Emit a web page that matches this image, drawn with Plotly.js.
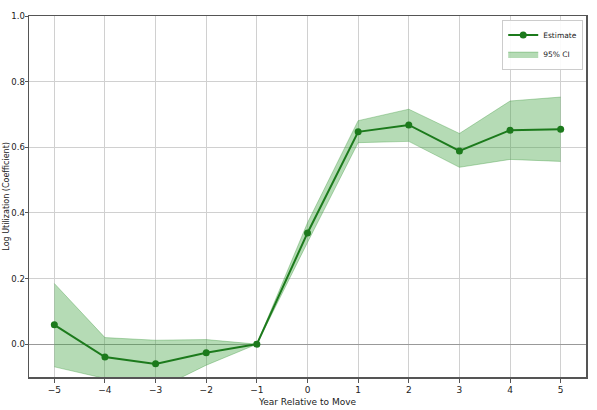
<!DOCTYPE html>
<html>
<head>
<meta charset="utf-8">
<script src="https://cdn.plot.ly/plotly-3.0.1.min.js"></script>
<style>html,body{margin:0;padding:0;background:#fff;}#chart{width:597px;height:410px;}</style>
</head>
<body>
<div id="chart"></div>
<script>
const years = [-5, -4, -3, -2, -1, 0, 1, 2, 3, 4, 5];
const estimate = [0.059, -0.039, -0.060, -0.026, 0.0, 0.339, 0.647, 0.668, 0.589, 0.652, 0.655];
const ciUpper = [0.185, 0.020, 0.012, 0.014, 0.0, 0.370, 0.681, 0.716, 0.642, 0.741, 0.753];
const ciLower = [-0.069, -0.105, -0.140, -0.064, 0.0, 0.310, 0.614, 0.618, 0.539, 0.563, 0.557];
const xTicks = [-5, -4, -3, -2, -1, 0, 1, 2, 3, 4, 5];
const yTicks = [0.0, 0.2, 0.4, 0.6, 0.8, 1.0];

const green = '#1c7a1c';
const traces = [
  {x: years, y: ciLower, type: 'scatter', mode: 'lines', line: {color: 'rgba(60,150,60,0.45)', width: 0.8}, showlegend: false, hoverinfo: 'skip'},
  {x: years, y: ciUpper, type: 'scatter', mode: 'lines', fill: 'tonexty', fillcolor: 'rgba(60,160,60,0.38)', line: {color: 'rgba(60,150,60,0.45)', width: 0.8}, name: '95% CI', legendrank: 2},
  {x: years, y: estimate, type: 'scatter', mode: 'lines+markers', line: {color: green, width: 2}, marker: {color: green, size: 7}, name: 'Estimate', legendrank: 1}
];
const fam = 'DejaVu Sans, sans-serif';
const axisFont = {family: fam, size: 9, color: '#222'};
const layout = {
  width: 597, height: 410,
  margin: {l: 29, r: 11, t: 16, b: 33},
  paper_bgcolor: '#fff', plot_bgcolor: '#fff',
  font: axisFont,
  showlegend: true,
  legend: {x: 0.995, y: 0.99, xanchor: 'right', yanchor: 'top', traceorder: 'normal', itemwidth: 30, bgcolor: 'rgba(255,255,255,0.9)', bordercolor: '#ccc', borderwidth: 1, font: {family: fam, size: 7.5, color: '#222'}, tracegroupgap: 0},
  xaxis: {
    range: [-5.5, 5.5], tickvals: xTicks, ticktext: xTicks.map(v => v < 0 ? '\u2212' + Math.abs(v) : String(v)),
    showgrid: true, gridcolor: '#d0d0d0', gridwidth: 1, zeroline: false,
    showline: true, linecolor: '#555', linewidth: 1.5, mirror: true,
    ticks: 'outside', ticklen: 4, tickcolor: '#555', tickfont: axisFont,
    title: {text: 'Year Relative to Move', font: {family: fam, size: 9, color: '#222'}, standoff: 4}
  },
  yaxis: {
    range: [-0.1, 1.0], tickvals: yTicks, ticktext: yTicks.map(v => v.toFixed(1)),
    showgrid: true, gridcolor: '#d0d0d0', gridwidth: 1, zeroline: true, zerolinecolor: '#999', zerolinewidth: 1.2,
    showline: true, linecolor: '#555', linewidth: 1.5, mirror: true,
    ticks: 'outside', ticklen: 3, tickcolor: '#555', tickfont: {family: fam, size: 8.5, color: '#222'}, ticklabelstandoff: -2
  },
  annotations: [{
    text: 'Log Utilization (Coefficient)', textangle: -90, showarrow: false,
    xref: 'paper', yref: 'paper', x: -0.041, y: 0.5, xanchor: 'center', yanchor: 'middle',
    font: {family: fam, size: 8, color: '#222'}
  }]
};
Plotly.newPlot('chart', traces, layout, {displayModeBar: false, staticPlot: true});
</script>
</body>
</html>
